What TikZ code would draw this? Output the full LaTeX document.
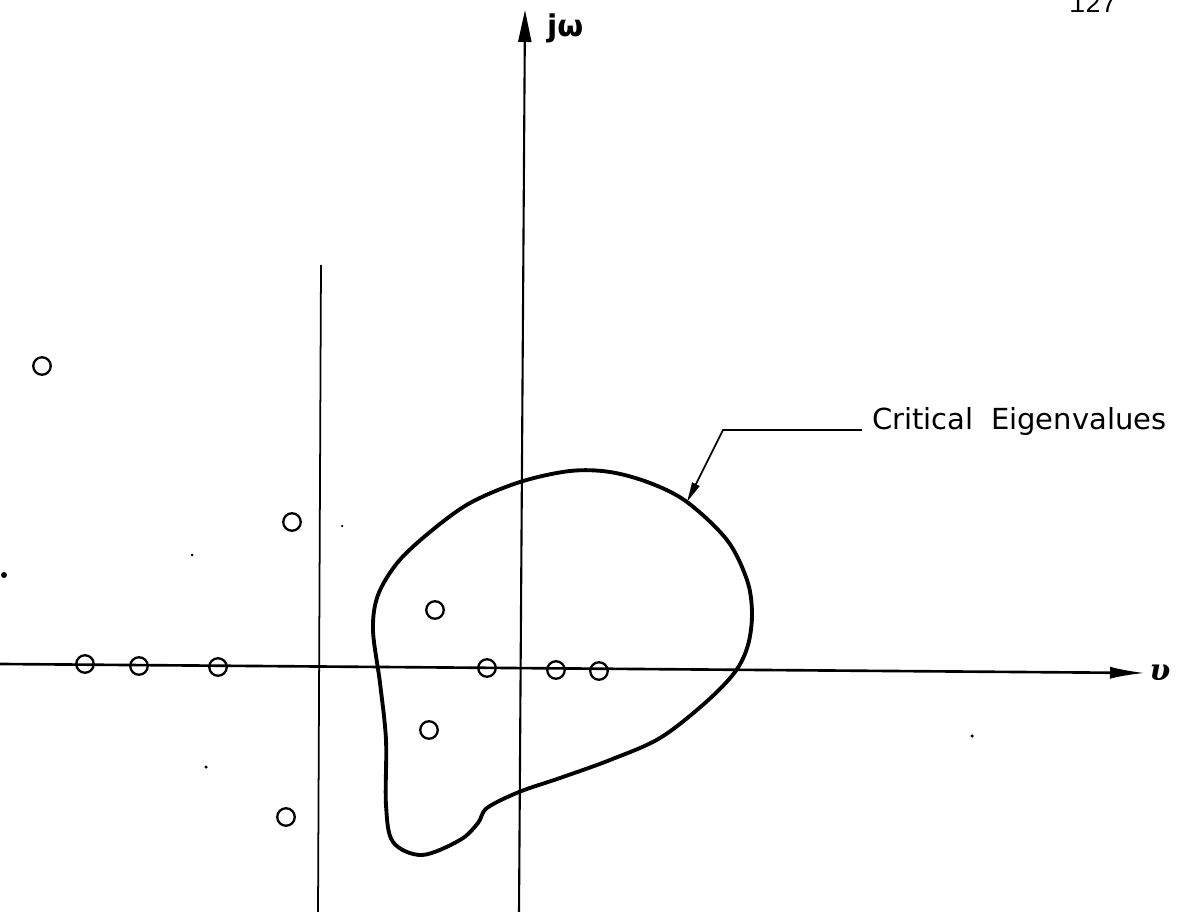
\documentclass[tikz,border=0pt]{standalone}
\usepackage{fontspec}
\setmainfont{Liberation Sans}
\newfontfamily\pagefont{Liberation Mono}
\newfontfamily\greekserif{DejaVu Serif}
\newfontfamily\letterfont{DejaVu Sans}
\usetikzlibrary{arrows.meta}
\begin{document}
\begin{tikzpicture}[x=0.02cm,y=-0.02cm,
  pole/.style={circle,draw,line width=1.3pt,minimum size=0.35cm,inner sep=0pt},
  axisline/.style={line width=1.2pt},
  thinline/.style={line width=1.0pt},
  locus/.style={line width=2.2pt,line join=round},
  leader/.style={line width=1.0pt},
  speck/.style={fill=black}]
\useasboundingbox (0,0) rectangle (1188,912);
\clip (0,0) rectangle (1188,912);
% page number
\node[anchor=base,font=\pagefont\fontsize{15}{15}\selectfont] (pg) at (1093,13) {127};
% axes
\coordinate (jtop) at (525,10);
\coordinate (jbot) at (519,914);
\draw[axisline,-{Triangle[length=0.64cm,width=0.26cm]}] (jbot) -- (jtop);
\node[anchor=base west,font=\letterfont\bfseries\fontsize{17}{20}\selectfont] (jw) at (541,37) {jω};
\coordinate (hl) at (0,664);
\coordinate (hr) at (1145,673);
\draw[axisline,line width=1.5pt,-{Latex[length=0.7cm,width=0.24cm]}] (hl) -- (hr);
\node[font=\greekserif\bfseries\itshape\fontsize{17}{18}\selectfont] (v) at (1160,673) {υ};
\coordinate (vtop) at (321,265);
\coordinate (vbot) at (318,914);
\draw[thinline] (vtop) -- (vbot);
% critical eigenvalue locus
\draw[locus] plot[smooth cycle,tension=0.55] coordinates {
 (519,792) (487,808) (478,823) (460,840) (422,855) (393,842) (386,805)
 (386,740) (380,683) (373,630) (378,595) (398,562) (430,532) (470,503)
 (520,482) (570,471) (610,472) (650,483) (687,502) (727,540) (747,580)
 (752,613) (748,645) (735,672) (705,703) (660,738) (610,760) (560,778)};
% leader and label
\node[anchor=base west,inner sep=0pt,font=\letterfont\fontsize{16.5}{18}\selectfont] (lbl) at (872,430) {Critical\hspace{0.6em}Eigenvalues};
\coordinate (lend) at (862,430);
\coordinate (corner) at (723,430);
\coordinate (touch) at (687,502);
\draw[leader,-{Triangle[length=0.4cm,width=0.16cm]}] (lend) -- (corner) -- (touch);
% poles
\node[pole] (p1) at (42,366) {};
\node[pole] (p2) at (292,522) {};
\node[pole] (p3) at (85,664) {};
\node[pole] (p4) at (139,666) {};
\node[pole] (p5) at (218,667) {};
\node[pole] (p6) at (286,817) {};
\node[pole] (p7) at (435,610) {};
\node[pole] (p8) at (487,668) {};
\node[pole] (p9) at (556,670) {};
\node[pole] (p10) at (599,671) {};
\node[pole] (p11) at (429,730) {};
% specks
\fill[speck] (4,575) circle[radius=0.06cm];
\fill[speck] (192,555) circle[radius=0.03cm];
\fill[speck] (206,767) circle[radius=0.035cm];
\fill[speck] (342,526) circle[radius=0.025cm];
\fill[speck] (972,736) circle[radius=0.035cm];
\end{tikzpicture}
\end{document}
